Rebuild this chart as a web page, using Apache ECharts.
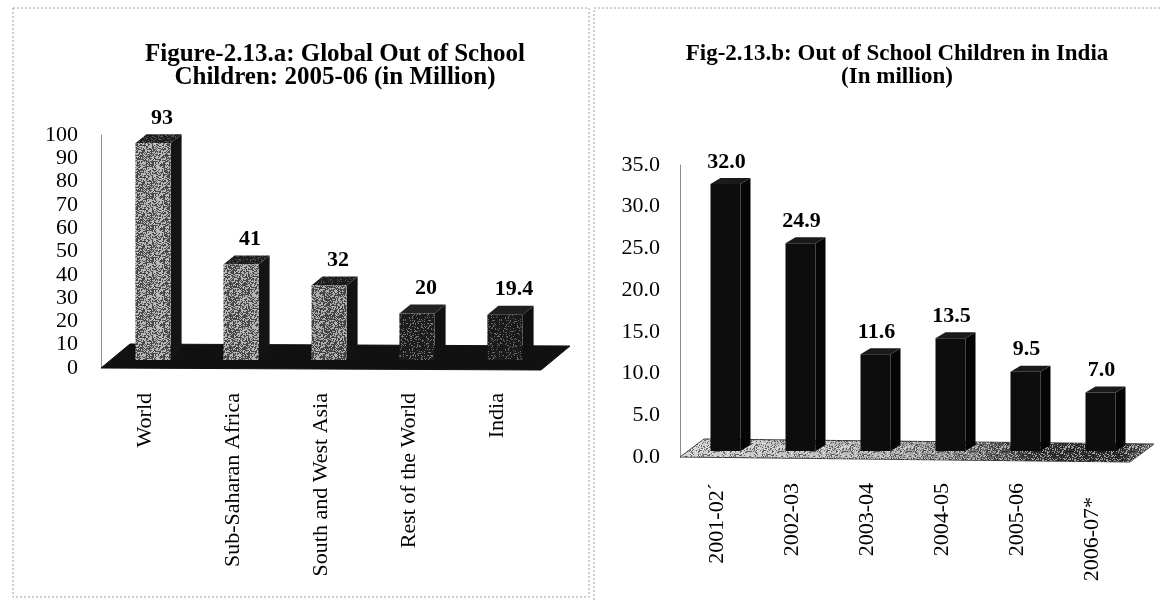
<!DOCTYPE html>
<html>
<head>
<meta charset="utf-8">
<title>Out of School Children</title>
<script src="https://cdn.jsdelivr.net/npm/echarts@6/dist/echarts.min.js"></script>
<style>
  html, body { margin: 0; padding: 0; background: #ffffff; }
  #chart { width: 1162px; height: 601px; }
</style>
</head>
<body>
<div id="chart"></div>
<script>
// ---- data: global out-of-school children, 2005-06 (million) ----
const regionCategories = ['World', 'Sub-Saharan Africa', 'South and West Asia', 'Rest of the World', 'India'];
const regionValues = [93, 41, 32, 20, 19.4];
const regionAxis = { min: 0, max: 100, interval: 10 };

// ---- data: out-of-school children in India (million) ----
const yearCategories = ['2001-02\u00B4', '2002-03', '2003-04', '2004-05', '2005-06', '2006-07*'];
const yearValues = [32.0, 24.9, 11.6, 13.5, 9.5, 7.0];
const yearAxis = { min: 0, max: 35, interval: 5 };

const SERIF = "'Liberation Serif', 'Times New Roman', 'DejaVu Serif', serif";

// deterministic integer hash used for the printed-grain texture
function grain(x, y) {
  let h = (Math.imul(x, 374761393) + Math.imul(y, 668265263)) | 0;
  h = Math.imul(h ^ (h >>> 13), 1274126177);
  return ((h ^ (h >>> 16)) >>> 0) / 4294967296;
}

// tile mixing two tones, "ratio" of the pixels taking the dark tone
function grainPattern(light, dark, ratio) {
  const size = 32;
  const c = document.createElement('canvas');
  c.width = size; c.height = size;
  const ctx = c.getContext('2d');
  for (let y = 0; y < size; y++) {
    for (let x = 0; x < size; x++) {
      ctx.fillStyle = grain(x, y) < ratio ? dark : light;
      ctx.fillRect(x, y, 1, 1);
    }
  }
  return { image: c, repeat: 'repeat' };
}

// sparse speckle overlay (transparent background)
function speckleOverlay(dark, light, ratio) {
  const size = 32;
  const c = document.createElement('canvas');
  c.width = size; c.height = size;
  const ctx = c.getContext('2d');
  for (let y = 0; y < size; y++) {
    for (let x = 0; x < size; x++) {
      const g = grain(x + 7, y + 3);
      if (g < ratio / 2) { ctx.fillStyle = dark; ctx.fillRect(x, y, 1, 1); }
      else if (g > 1 - ratio / 2) { ctx.fillStyle = light; ctx.fillRect(x, y, 1, 1); }
    }
  }
  return { image: c, repeat: 'repeat' };
}

const regionFaces = [
  { front: grainPattern('#b8b8b8', '#4a4a4a', 0.45), top: grainPattern('#555555', '#1e1e1e', 0.75), side: '#141414' },
  { front: grainPattern('#b4b4b4', '#484848', 0.48), top: grainPattern('#505050', '#1e1e1e', 0.78), side: '#141414' },
  { front: grainPattern('#aeaeae', '#444444', 0.52), top: grainPattern('#4c4c4c', '#1c1c1c', 0.8), side: '#131313' },
  { front: grainPattern('#707070', '#1c1c1c', 0.78), top: '#222222', side: '#111111' },
  { front: grainPattern('#666666', '#1a1a1a', 0.82), top: '#1f1f1f', side: '#101010' }
];
const yearFaces = yearValues.map(() => ({ front: '#0d0d0d', top: '#1a1a1a', side: '#050505' }));

// pseudo-3D column: front face, top face, right side face and value label
function prismRenderer(cfg) {
  return function (params, api) {
    const i = api.value(0);
    const v = api.value(1);
    const base = api.coord([i, 0]);
    const top = api.coord([i, v]);
    const band = api.size([1, 0])[0];
    const w = band * cfg.widthRatio;
    const cx = base[0] + cfg.shift[0];
    const x0 = cx - w / 2;
    const x1 = cx + w / 2;
    const yb = base[1] + cfg.shift[1];
    const yt = top[1] + cfg.shift[1];
    const dx = cfg.depth[0];
    const dy = cfg.depth[1];
    const f = cfg.faces[i];
    return {
      type: 'group',
      children: [
        { type: 'polygon', shape: { points: [[x1, yt], [x1 + dx, yt + dy], [x1 + dx, yb + dy], [x1, yb]] }, style: { fill: f.side } },
        { type: 'polygon', shape: { points: [[x0, yt], [x1, yt], [x1 + dx, yt + dy], [x0 + dx, yt + dy]] }, style: { fill: f.top } },
        { type: 'rect', shape: { x: x0, y: yt, width: w, height: yb - yt }, style: { fill: f.front } },
        {
          type: 'text',
          style: {
            text: cfg.label(v),
            x: cx + cfg.labelOffset[0],
            y: yt + dy + cfg.labelOffset[1],
            align: 'center',
            verticalAlign: 'middle',
            fontFamily: SERIF,
            fontSize: 22,
            fontWeight: 'bold',
            fill: '#000'
          }
        }
      ]
    };
  };
}

// floor slab under the columns, optionally with a grain overlay
function floorRenderer(cfg) {
  return function (params, api) {
    const n = cfg.count;
    const band = api.size([1, 0])[0];
    const left = api.coord([0, 0])[0] - band / 2;
    const right = api.coord([n - 1, 0])[0] + band / 2;
    const y = api.coord([0, 0])[1];
    const dx = cfg.depth[0];
    const dy = cfg.depth[1];
    const pts = [[left, y], [right, y + cfg.slope], [right + dx, y + cfg.slope + dy], [left + dx, y + dy]];
    const children = [
      { type: 'polygon', shape: { points: pts }, style: { fill: cfg.fill, stroke: cfg.stroke, lineWidth: 1 } }
    ];
    if (cfg.overlay) {
      children.push({ type: 'polygon', shape: { points: pts }, style: { fill: cfg.overlay } });
    }
    return { type: 'group', children: children };
  };
}

const yearFloorFill = new echarts.graphic.LinearGradient(0, 0, 1, 0, [
  { offset: 0, color: '#d2d2d2' },
  { offset: 0.45, color: '#ababab' },
  { offset: 0.62, color: '#7c7c7c' },
  { offset: 0.75, color: '#333333' },
  { offset: 0.93, color: '#2c2c2c' },
  { offset: 1, color: '#8a8a8a' }
]);

const axisLabelCommon = { color: '#000', fontFamily: SERIF, fontSize: 22 };

const option = {
  animation: false,
  backgroundColor: '#ffffff',
  title: [
    {
      text: 'Figure-2.13.a: Global Out of School\nChildren: 2005-06 (in Million)',
      left: 330, top: 38, textAlign: 'center',
      textStyle: { fontFamily: SERIF, fontSize: 25, fontWeight: 'bold', color: '#000', lineHeight: 23 }
    },
    {
      text: 'Fig-2.13.b: Out of School Children in India\n(In million)',
      left: 892, top: 38, textAlign: 'center',
      textStyle: { fontFamily: SERIF, fontSize: 23, fontWeight: 'bold', color: '#000', lineHeight: 23 }
    }
  ],
  graphic: [
    { type: 'rect', shape: { x: 13, y: 8, width: 576, height: 589 }, style: { fill: 'none', stroke: '#a0a0a0', lineWidth: 1, lineDash: [2, 2] }, z: 0 },
    { type: 'rect', shape: { x: 594, y: 8, width: 620, height: 640 }, style: { fill: 'none', stroke: '#a0a0a0', lineWidth: 1, lineDash: [2, 2] }, z: 0 }
  ],
  grid: [
    { left: 101, top: 135, width: 440, height: 233 },
    { left: 680, top: 165, width: 450, height: 292 }
  ],
  xAxis: [
    {
      type: 'category', gridIndex: 0, data: regionCategories,
      axisLine: { show: false }, axisTick: { show: false },
      axisLabel: Object.assign({ rotate: 90, margin: 25, interval: 0 }, axisLabelCommon)
    },
    {
      type: 'category', gridIndex: 1,
      data: yearCategories.map((c, i) => i === yearCategories.length - 1
        ? { value: c, textStyle: { padding: [0, 14, 0, 0] } }
        : c),
      axisLine: { show: false }, axisTick: { show: false },
      axisLabel: Object.assign({ rotate: 90, margin: 26, interval: 0 }, axisLabelCommon)
    }
  ],
  yAxis: [
    {
      type: 'value', gridIndex: 0,
      min: regionAxis.min, max: regionAxis.max, interval: regionAxis.interval,
      axisLine: { show: true, lineStyle: { color: '#8c8c8c', width: 1 } },
      axisTick: { show: false }, splitLine: { show: false },
      axisLabel: Object.assign({ margin: 23 }, axisLabelCommon)
    },
    {
      type: 'value', gridIndex: 1,
      min: yearAxis.min, max: yearAxis.max, interval: yearAxis.interval,
      axisLine: { show: true, lineStyle: { color: '#8c8c8c', width: 1 } },
      axisTick: { show: false }, splitLine: { show: false },
      axisLabel: Object.assign({ margin: 20, formatter: (v) => v.toFixed(1) }, axisLabelCommon)
    }
  ],
  series: [
    {
      type: 'custom', xAxisIndex: 0, yAxisIndex: 0, z: 1, silent: true,
      data: [[0, 0]],
      renderItem: floorRenderer({ count: regionCategories.length, depth: [29, -24], slope: 2, fill: '#111111', stroke: '#111111' })
    },
    {
      type: 'custom', xAxisIndex: 0, yAxisIndex: 0, z: 2,
      data: regionValues.map((v, i) => [i, v]),
      encode: { x: 0, y: 1 },
      renderItem: prismRenderer({
        widthRatio: 0.4, shift: [8, -8], depth: [11, -9], faces: regionFaces,
        labelOffset: [9, -16], label: (v) => String(v)
      })
    },
    {
      type: 'custom', xAxisIndex: 1, yAxisIndex: 1, z: 1, silent: true,
      data: [[0, 0]],
      renderItem: floorRenderer({
        count: yearCategories.length, depth: [24, -18], slope: 5,
        fill: yearFloorFill, stroke: '#3a3a3a',
        overlay: speckleOverlay('rgba(20,20,20,0.55)', 'rgba(235,235,235,0.6)', 0.5)
      })
    },
    {
      type: 'custom', xAxisIndex: 1, yAxisIndex: 1, z: 2,
      data: yearValues.map((v, i) => [i, v]),
      encode: { x: 0, y: 1 },
      renderItem: prismRenderer({
        widthRatio: 0.4, shift: [8, -6], depth: [10, -6], faces: yearFaces,
        labelOffset: [1, -16], label: (v) => v.toFixed(1)
      })
    }
  ]
};

const chart = echarts.init(document.getElementById('chart'));
chart.setOption(option);
</script>
</body>
</html>
